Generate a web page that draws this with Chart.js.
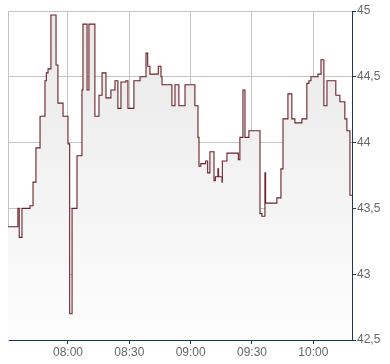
<!DOCTYPE html>
<html>
<head>
<meta charset="utf-8">
<script src="https://cdn.jsdelivr.net/npm/chart.js@4/dist/chart.umd.min.js"></script>
<style>
  body { margin: 0; background: #fff; }
  canvas { display: block; }
</style>
</head>
<body>
<canvas id="chart" width="390" height="364"></canvas>
<script>
// start time of each price level (stepped line) and the price
const times = [
    '07:30:40', '07:35:30', '07:36:10', '07:37:30', '07:41:25', '07:42:55', '07:44:20', '07:46:20',
    '07:48:45', '07:49:25', '07:50:15', '07:51:40', '07:54:10', '07:55:05', '07:57:35', '08:00:00',
    '08:00:50', '08:02:00', '08:04:25', '08:06:50', '08:07:20', '08:09:20', '08:10:15', '08:13:10',
    '08:15:10', '08:16:40', '08:18:35', '08:21:00', '08:23:00', '08:24:25', '08:25:55', '08:28:20',
    '08:29:20', '08:32:15', '08:35:15', '08:38:10', '08:39:00', '08:40:05', '08:44:10', '08:45:30',
    '08:46:00', '08:50:50', '08:52:20', '08:54:15', '08:57:15', '09:02:05', '09:03:35', '09:04:05',
    '09:05:00', '09:07:20', '09:08:20', '09:09:25', '09:11:25', '09:12:05', '09:13:20', '09:13:40',
    '09:15:20', '09:15:30', '09:17:45', '09:23:20', '09:24:05', '09:25:35', '09:26:35', '09:28:30',
    '09:33:55', '09:34:50', '09:36:20', '09:36:40', '09:42:10', '09:44:10', '09:45:10', '09:47:35',
    '09:49:30', '09:51:00', '09:54:25', '09:56:50', '09:57:50', '09:58:50', '10:02:15', '10:03:45',
    '10:05:10', '10:06:40', '10:11:00', '10:13:00', '10:15:25', '10:16:25', '10:17:55', '10:18:55'
];
const prices = [
    43.36, 43.50, 43.28, 43.50, 43.52, 43.70, 43.96, 44.20,
    44.47, 44.53, 44.56, 44.97, 44.59, 44.30, 44.20, 43.99,
    42.70, 43.50, 43.90, 44.40, 44.90, 44.40, 44.90, 44.20,
    44.36, 44.53, 44.34, 44.40, 44.47, 44.26, 44.46, 44.47,
    44.26, 44.47, 44.50, 44.68, 44.58, 44.52, 44.58, 44.50,
    44.44, 44.28, 44.44, 44.28, 44.44, 44.28, 44.04, 43.82,
    43.84, 43.86, 43.77, 43.93, 43.71, 43.74, 43.80, 43.74,
    43.70, 43.86, 43.92, 43.87, 44.04, 44.40, 44.04, 44.09,
    43.46, 43.44, 43.77, 43.54, 43.58, 43.80, 44.18, 44.37,
    44.18, 44.15, 44.18, 44.45, 44.47, 44.50, 44.52, 44.63,
    44.28, 44.47, 44.36, 44.31, 44.18, 44.09, 43.60, 43.60
];
const xTickLabels = ['08:00', '08:30', '09:00', '09:30', '10:00'];
const yTickValues = [42.5, 43, 43.5, 44, 44.5, 45];

// "HH:MM[:SS]" -> minutes since midnight
function toMin(t) {
    const p = t.split(':').map(Number);
    return p[0] * 60 + p[1] + (p[2] || 0) / 60;
}
function fmtMin(m) {
    const h = Math.floor(m / 60), mm = Math.round(m % 60);
    return String(h).padStart(2, '0') + ':' + String(mm).padStart(2, '0');
}

const points = times.map((t, i) => ({ x: toMin(t), y: prices[i] }));

const axisColor = '#1c3461';
const gridColor = '#c4c4c4';

const ctx = document.getElementById('chart').getContext('2d');
new Chart(ctx, {
    type: 'line',
    data: {
        datasets: [{
            data: points,
            stepped: true,
            borderColor: '#6a2227',
            borderWidth: 1.1,
            pointRadius: 0,
            fill: 'start',
            backgroundColor: (c) => {
                const area = c.chart.chartArea;
                if (!area) return '#eee';
                const g = c.chart.ctx.createLinearGradient(0, area.top, 0, area.bottom);
                g.addColorStop(0, '#e8e8e8');
                g.addColorStop(1, '#fdfdfd');
                return g;
            }
        }]
    },
    options: {
        responsive: false,
        animation: false,
        devicePixelRatio: 1,
        layout: { padding: { top: 11, left: 0, right: 0, bottom: 0 } },
        plugins: {
            legend: { display: false },
            tooltip: { enabled: false }
        },
        scales: {
            x: {
                type: 'linear',
                min: toMin(times[0]),
                max: toMin(times[times.length - 1]),
                afterBuildTicks: (scale) => {
                    scale.ticks = xTickLabels.map(t => ({ value: toMin(t) }));
                },
                afterFit: (scale) => { scale.height = 24; },
                grid: { color: gridColor, tickColor: axisColor, tickLength: 4 },
                border: { color: axisColor, width: 1 },
                ticks: {
                    color: '#666',
                    padding: 1,
                    maxRotation: 0,
                    font: { family: '"Liberation Sans", Arial, sans-serif', size: 12 },
                    callback: (v) => fmtMin(v)
                }
            },
            y: {
                position: 'right',
                min: 42.5,
                max: 45,
                afterBuildTicks: (scale) => {
                    scale.ticks = yTickValues.map(v => ({ value: v }));
                },
                afterFit: (scale) => { scale.width = 38; },
                grid: { color: gridColor, tickColor: axisColor, tickLength: 4 },
                border: { color: axisColor, width: 1 },
                ticks: {
                    color: '#666',
                    padding: 1,
                    font: { family: '"Liberation Sans", Arial, sans-serif', size: 12 },
                    callback: (v) => String(v).replace('.', ',')
                }
            },
            yl: {
                position: 'left',
                afterFit: (scale) => { scale.width = 8; },
                grid: { display: false },
                border: { color: gridColor, width: 1 },
                ticks: { display: false }
            }
        }
    }
});
</script>
</body>
</html>
